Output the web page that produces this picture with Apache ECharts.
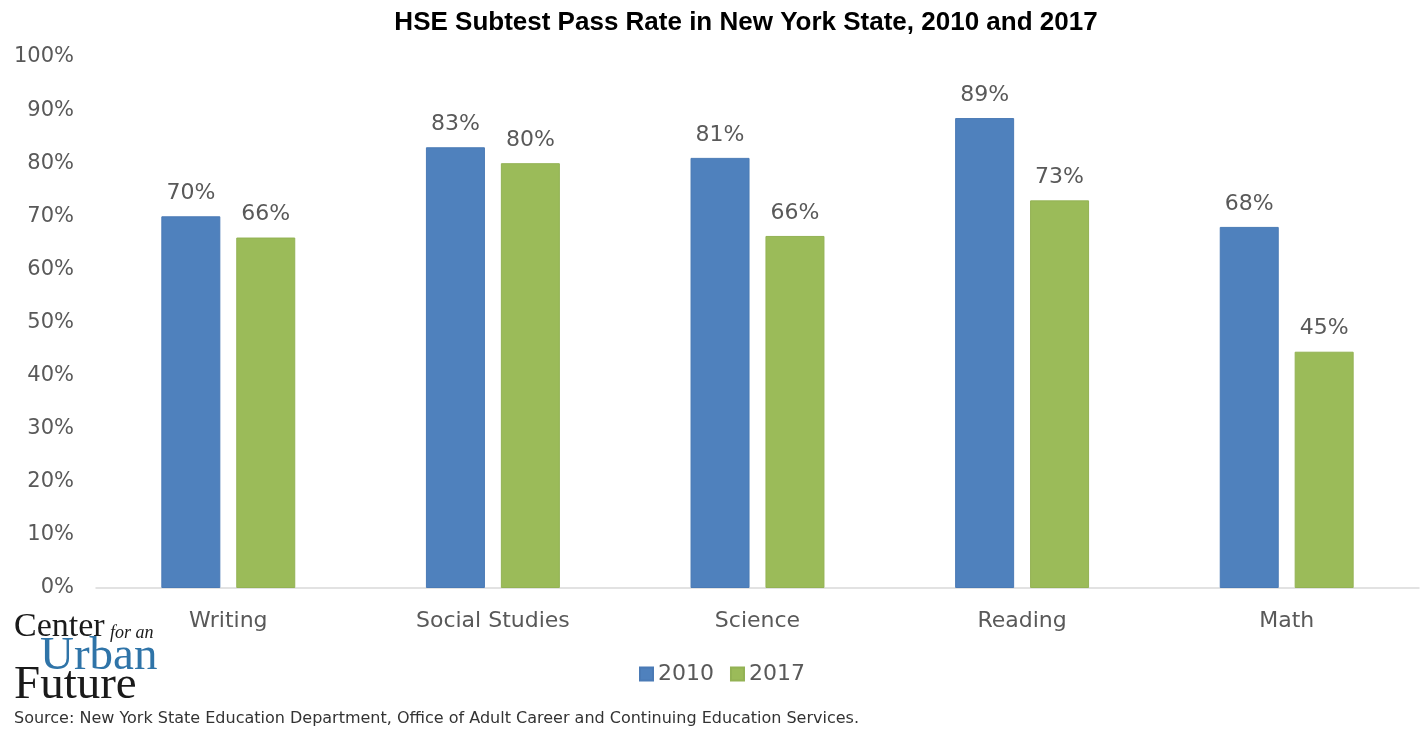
<!DOCTYPE html>
<html>
<head>
<meta charset="utf-8">
<script src="https://cdn.jsdelivr.net/npm/echarts@6/dist/echarts.min.js"></script>
<style>
html, body { margin: 0; padding: 0; background: #fff; }
#main { width: 1424px; height: 733px; }
</style>
</head>
<body>
<div id="main"></div>
<script>
var subjects = ['Writing', 'Social Studies', 'Science', 'Reading', 'Math'];
var rate2010 = [70, 83, 81, 88.5, 68];
var rate2017 = [66, 80, 66.3, 73, 44.5];
var yTicks = [0, 10, 20, 30, 40, 50, 60, 70, 80, 90, 100];

var myChart = echarts.init(document.getElementById('main'));
var txt = '#595959';
var font = 'DejaVu Sans';

function barLabel() {
    return {
        show: true,
        position: 'top',
        distance: 12,
        color: txt,
        fontSize: 22,
        fontFamily: font,
        formatter: function (p) { return Math.round(p.value) + '%'; }
    };
}

option = {
    backgroundColor: '#fff',
    title: {
        text: 'HSE Subtest Pass Rate in New York State, 2010 and 2017',
        left: 741,
        textAlign: 'center',
        top: 5,
        textStyle: {
            color: '#000',
            fontSize: 26,
            fontWeight: 'bold',
            fontFamily: 'Liberation Sans, Arial, sans-serif'
        }
    },
    legend: {
        data: ['2010', '2017'],
        left: 634,
        top: 658,
        itemWidth: 13,
        itemHeight: 13,
        itemGap: 16,
        icon: 'rect',
        textStyle: { color: txt, fontSize: 22, fontFamily: font }
    },
    grid: { left: 96, right: 5, top: 57, bottom: 145, containLabel: false },
    xAxis: {
        type: 'category',
        data: subjects,
        axisLine: { lineStyle: { color: '#d9d9d9', width: 1.5 } },
        axisTick: { show: false },
        axisLabel: { color: txt, fontSize: 22, margin: 22, fontFamily: font }
    },
    yAxis: {
        type: 'value',
        min: yTicks[0],
        max: yTicks[yTicks.length - 1],
        interval: 10,
        splitLine: { show: false },
        axisLine: { show: false },
        axisTick: { show: false },
        axisLabel: {
            color: txt, fontSize: 21, margin: 22, fontFamily: font,
            formatter: '{value}%'
        }
    },
    series: [{
        name: '2010',
        type: 'bar',
        data: rate2010,
        barWidth: 59,
        barGap: '27%',
        itemStyle: { color: '#4F81BD', borderColor: '#4A7AB5', borderWidth: 1 },
        label: barLabel()
    }, {
        name: '2017',
        type: 'bar',
        data: rate2017,
        barWidth: 59,
        itemStyle: { color: '#9BBB59', borderColor: '#93B254', borderWidth: 1 },
        label: barLabel()
    }],
    graphic: [
        { type: 'text', left: 14, top: 610, style: { text: 'Center', font: '34px "Liberation Serif", serif', fill: '#1a1a1a' } },
        { type: 'text', left: 110, top: 624, style: { text: 'for an', font: 'italic 18px "Liberation Serif", serif', fill: '#1a1a1a' } },
        { type: 'text', left: 40, top: 633, style: { text: 'Urban', font: '47px "Liberation Serif", serif', fill: '#2F74A8' } },
        { type: 'text', left: 14, top: 662, style: { text: 'Future', font: '47px "Liberation Serif", serif', fill: '#1a1a1a' } },
        { type: 'text', left: 14, top: 711, style: { text: 'Source: New York State Education Department, Office of Adult Career and Continuing Education Services.', font: '16px "DejaVu Sans", sans-serif', fill: '#333' } }
    ]
};

myChart.setOption(option);
</script>
</body>
</html>
